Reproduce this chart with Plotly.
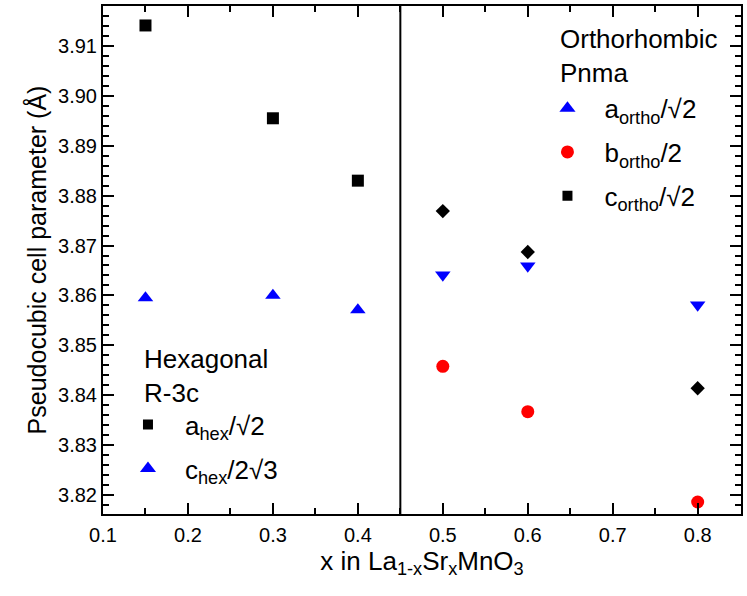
import plotly.graph_objects as go

# ---- data ----
x_hex = [0.15, 0.30, 0.40]
a_hex = [3.9141, 3.8955, 3.8830]
c_hex = [3.8595, 3.8600, 3.8571]

x_ortho = [0.5, 0.6, 0.8]
a_ortho = [3.8641, 3.8659, 3.8581]
b_ortho = [3.8458, 3.8367, 3.8186]
c_ortho = [3.8769, 3.8687, 3.8414]

phase_boundary = 0.45

hex_labels = ["a<sub>hex</sub>/√2", "c<sub>hex</sub>/2√3"]
ortho_labels = ["a<sub>ortho</sub>/√2", "b<sub>ortho</sub>/2", "c<sub>ortho</sub>/√2"]

FONT = "Arial, Liberation Sans, sans-serif"
BLUE = "#0000ff"
RED = "#ff0000"
BLACK = "#000000"

fig = go.Figure()

# data traces (no legend)
fig.add_trace(go.Scatter(x=x_hex, y=a_hex, mode="markers", showlegend=False,
                         marker=dict(symbol="square", size=12, color=BLACK)))
fig.add_trace(go.Scatter(x=x_hex, y=c_hex, mode="markers", showlegend=False,
                         marker=dict(symbol="triangle-up", size=13.5, color=BLUE)))
fig.add_trace(go.Scatter(x=x_ortho, y=a_ortho, mode="markers", showlegend=False,
                         marker=dict(symbol="triangle-down", size=13.5, color=BLUE)))
fig.add_trace(go.Scatter(x=x_ortho, y=b_ortho, mode="markers", showlegend=False,
                         marker=dict(symbol="circle", size=13, color=RED)))
fig.add_trace(go.Scatter(x=x_ortho, y=c_ortho, mode="markers", showlegend=False,
                         marker=dict(symbol="diamond", size=11, color=BLACK)))

# legend entries (as drawn in the original legend)
hex_leg_sym = [("square", 10, BLACK), ("triangle-up", 14, BLUE)]
for i, (lab, (sym, sz, col)) in enumerate(zip(hex_labels, hex_leg_sym)):
    fig.add_trace(go.Scatter(x=[None], y=[None], mode="markers", name=lab,
                             legend="legend", legendgroup=f"h{i}",
                             marker=dict(symbol=sym, size=sz, color=col)))
ortho_leg_sym = [("triangle-up", 14, BLUE), ("circle", 13, RED), ("square", 10, BLACK)]
for i, (lab, (sym, sz, col)) in enumerate(zip(ortho_labels, ortho_leg_sym)):
    fig.add_trace(go.Scatter(x=[None], y=[None], mode="markers", name=lab,
                             legend="legend2", legendgroup=f"o{i}",
                             marker=dict(symbol=sym, size=sz, color=col)))

fig.add_shape(type="line", xref="x", yref="paper", x0=phase_boundary, x1=phase_boundary,
              y0=0, y1=1, line=dict(color=BLACK, width=2))

LEG_FS = 26
leg_common = dict(font=dict(family=FONT, size=LEG_FS, color=BLACK), bgcolor="rgba(0,0,0,0)",
                  itemwidth=64, tracegroupgap=7, xanchor="left", yanchor="top",
                  itemclick=False, itemdoubleclick=False)

fig.update_layout(
    width=747, height=596,
    margin=dict(l=103, r=5, t=4, b=82),
    paper_bgcolor="white", plot_bgcolor="white",
    font=dict(family=FONT, color=BLACK),
    legend=dict(x=0.0125, y=0.222, **leg_common),
    legend2=dict(x=0.67, y=0.845, **leg_common),
    annotations=[
        dict(text="Hexagonal<br>R-3c", xref="paper", yref="paper", x=0.061, y=0.338,
             xanchor="left", yanchor="top", align="left", showarrow=False,
             font=dict(family=FONT, size=LEG_FS, color=BLACK)),
        dict(text="Orthorhombic<br>Pnma", xref="paper", yref="paper", x=0.7136, y=0.968,
             xanchor="left", yanchor="top", align="left", showarrow=False,
             font=dict(family=FONT, size=LEG_FS, color=BLACK)),
    ],
)

fig.update_xaxes(
    range=[0.1, 0.851], dtick=0.1, tick0=0.1, tickformat=".1f",
    showgrid=False, zeroline=False,
    showline=True, linecolor=BLACK, linewidth=2, mirror="allticks",
    ticks="inside", ticklen=11, tickwidth=1.5, tickcolor=BLACK,
    tickfont=dict(family=FONT, size=20, color=BLACK),
    ticklabelstandoff=2,
    minor=dict(dtick=0.05, tick0=0.1, ticks="inside", ticklen=6, tickwidth=1.5, tickcolor=BLACK),
    title=dict(text="x in La<sub>1-x</sub>Sr<sub>x</sub>MnO<sub>3</sub>",
               font=dict(family=FONT, size=26, color=BLACK), standoff=0),
)
fig.update_yaxes(
    range=[3.8162, 3.918], dtick=0.01, tick0=3.82, tickformat=".2f",
    showgrid=False, zeroline=False,
    showline=True, linecolor=BLACK, linewidth=2, mirror="allticks",
    ticks="inside", ticklen=11, tickwidth=1.5, tickcolor=BLACK,
    tickfont=dict(family=FONT, size=20, color=BLACK),
    ticklabelstandoff=0,
    minor=dict(dtick=0.002, tick0=3.82, ticks="inside", ticklen=6, tickwidth=1.5, tickcolor=BLACK),
    title=dict(text="Pseudocubic cell parameter (Å)",
               font=dict(family=FONT, size=25, color=BLACK), standoff=4),
)

fig.write_html("out.html")
